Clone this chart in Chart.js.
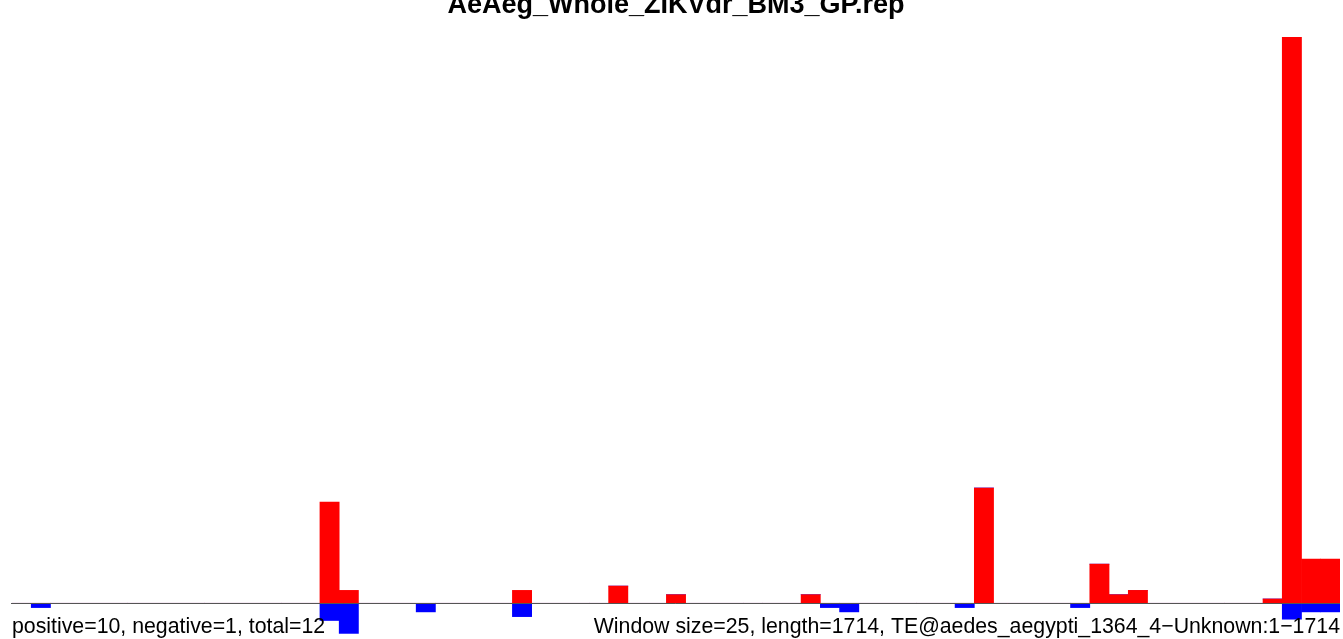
<!DOCTYPE html>
<html>
<head>
<meta charset="utf-8">
<script src="https://cdn.jsdelivr.net/npm/chart.js@4"></script>
<style>
  html, body { margin: 0; padding: 0; background: #fff; }
  #wrap { width: 1343px; height: 639px; position: relative; }
</style>
</head>
<body>
<div id="wrap"><canvas id="repChart"></canvas></div>
<script>
// Coverage per 25bp window along the TE (69 windows for length 1714)
const windowSize = 25;
const teLength = 1714;
const positive = [
  0, 0, 0, 0, 0, 0, 0, 0, 0, 0,
  0, 0, 0, 0, 0, 0, 23.5, 3, 0, 0,
  0, 0, 0, 0, 0, 0, 3, 0, 0, 0,
  0, 4, 0, 0, 2, 0, 0, 0, 0, 0,
  0, 2, 0, 0, 0, 0, 0, 0, 0, 0,
  26.8, 0, 0, 0, 0, 0, 9.1, 2, 3, 0,
  0, 0, 0, 0, 0, 1, 131.6, 10.3, 10.3
];
const negative = [
  0, -1, 0, 0, 0, 0, 0, 0, 0, 0,
  0, 0, 0, 0, 0, 0, -4, -7, 0, 0,
  0, -2, 0, 0, 0, 0, -3.1, 0, 0, 0,
  0, 0, 0, 0, 0, 0, 0, 0, 0, 0,
  0, 0, -1, -2, 0, 0, 0, 0, 0, -1,
  0, 0, 0, 0, 0, -1, 0, 0, 0, 0,
  0, 0, 0, 0, 0, 0, -3.7, -2, -2
];
const windowLabels = positive.map((v, i) => String(i * windowSize + 1));

const titleText = 'AeAeg_Whole_ZIKVdr_BM3_GP.rep';
const leftNote = 'positive=10, negative=1, total=12';
const rightNote = 'Window size=25, length=' + teLength + ', TE@aedes_aegypti_1364_4\u2212Unknown:1\u2212' + teLength;

// baseline + texts drawn by hand, like the R plot
const annotations = {
  id: 'annotations',
  afterDatasetsDraw(chart) {
    const c = chart.ctx;
    const area = chart.chartArea;
    const y0 = Math.round(chart.scales.y.getPixelForValue(0)) + 0.5;
    c.save();
    c.strokeStyle = '#555555';
    c.lineWidth = 1;
    c.beginPath();
    c.moveTo(area.left - 1, y0);
    c.lineTo(area.right, y0);
    c.stroke();

    c.fillStyle = '#000';
    c.textBaseline = 'alphabetic';
    c.font = 'bold 27px "Liberation Sans", Arial, sans-serif';
    c.textAlign = 'center';
    c.fillText(titleText, (area.left + area.right) / 2, 13);

    c.font = '21.3px "Liberation Sans", Arial, sans-serif';
    c.textAlign = 'left';
    c.fillText(leftNote, 12, 633);
    c.textAlign = 'right';
    c.fillText(rightNote, 1340, 633);
    c.restore();
  }
};

const ctx = document.getElementById('repChart').getContext('2d');
const repChart = new Chart(ctx, {
  type: 'bar',
  data: {
    labels: windowLabels,
    datasets: [
      { label: 'positive', data: positive, backgroundColor: '#ff0000', borderWidth: 0 },
      { label: 'negative', data: negative, backgroundColor: '#0000ff', borderWidth: 0 }
    ]
  },
  options: {
    responsive: true,
    maintainAspectRatio: false,
    animation: false,
    layout: { padding: { left: 12, right: 3, top: 37, bottom: 0 } },
    datasets: { bar: { categoryPercentage: 1.0, barPercentage: 1.0 } },
    scales: {
      x: { stacked: true, display: false },
      y: { stacked: true, display: false, min: -8.3, max: 131.6 }
    },
    plugins: {
      legend: { display: false },
      tooltip: { enabled: false }
    }
  },
  plugins: [annotations]
});
</script>
</body>
</html>
